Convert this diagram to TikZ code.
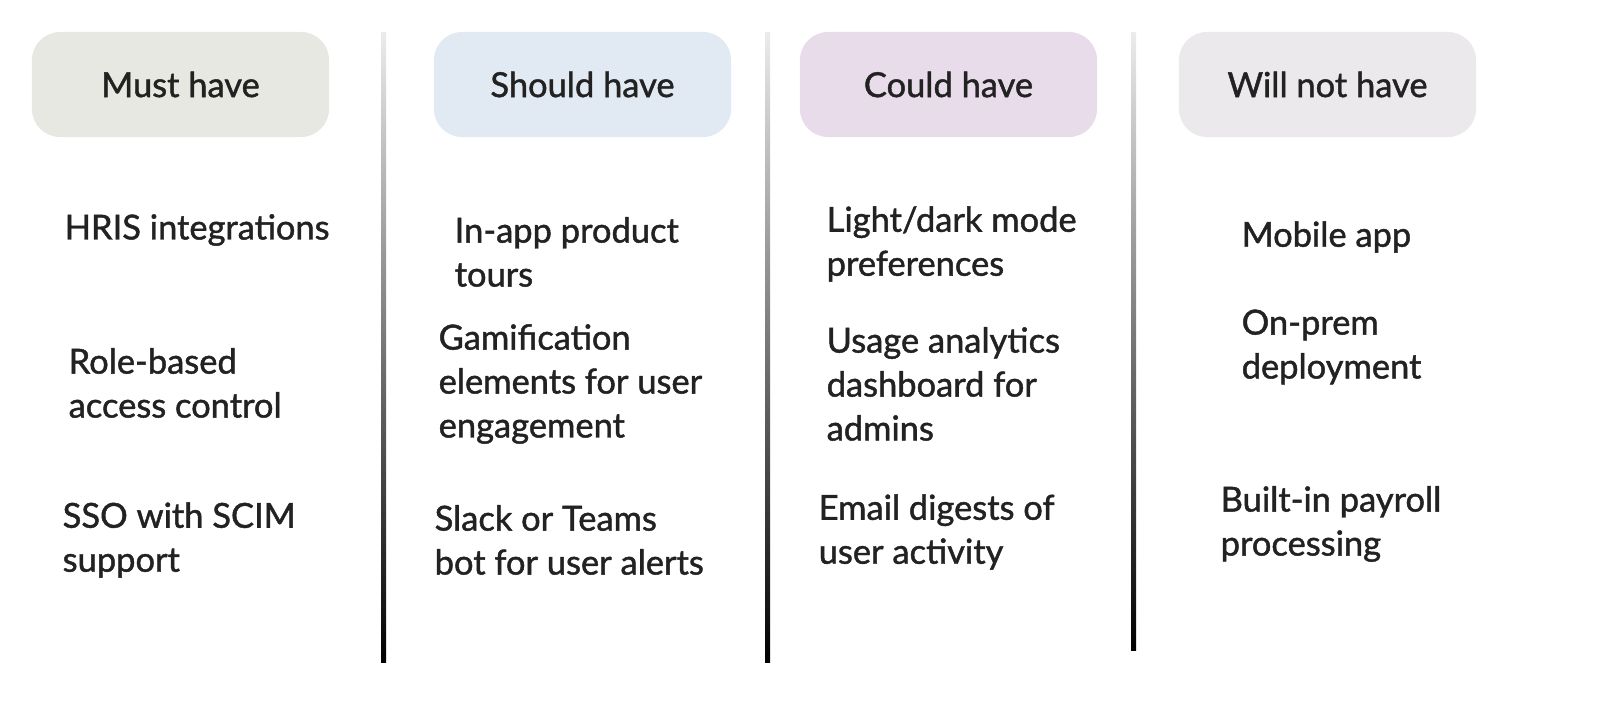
\documentclass[tikz,border=0pt]{standalone}
\usepackage{fontspec}
\setmainfont{Lato}[FakeBold=1.3,UprightFeatures={FakeBold=1.3}]
\usetikzlibrary{positioning}
\definecolor{mustbg}{HTML}{E8E8E3}
\definecolor{shouldbg}{HTML}{E1E9F2}
\definecolor{couldbg}{HTML}{E9DCEA}
\definecolor{wontbg}{HTML}{ECE9EC}
\definecolor{ink}{HTML}{222222}
\tikzset{
    head/.style={rounded corners=8pt, minimum width=2.97cm, minimum height=1.05cm, text=ink, font=\fontsize{9.8}{11}\selectfont},
    item/.style={anchor=west, align=left, inner sep=0pt, text=ink, font=\fontsize{9.8}{12.5}\selectfont}
}
\begin{document}
\begin{tikzpicture}[x=0.01cm, y=-0.01cm]
    \useasboundingbox (0,0) rectangle (1600,727);
    % Headers
    \node[head, fill=mustbg] (must) at (180.5,84.5) {Must have};
    \node[head, fill=shouldbg] (should) at (582.5,84.5) {Should have};
    \node[head, fill=couldbg] (could) at (948.5,84.5) {Could have};
    \node[head, fill=wontbg] (wont) at (1327.5,84.5) {Will not have};

    % Separators
    \shade[top color=gray!15, bottom color=black] (381,32) rectangle (386,662);
    \shade[top color=gray!15, bottom color=black] (765,32) rectangle (770,662);
    \shade[top color=gray!15, bottom color=black] (1131,32) rectangle (1136,650);

    % Must have
    \node[item] (m1) at (64,230) {HRIS integrations};
    \node[item] (m2) at (68,383) {Role-based\\access control};
    \node[item] (m3) at (62,540) {SSO with SCIM\\support};
    % Should have
    \node[item] (s1) at (454,252) {In-app product\\tours};
    \node[item] (s2) at (438,384) {Gamification\\elements for user\\engagement};
    \node[item] (s3) at (434,540) {Slack or Teams\\bot for user alerts};
    % Could have
    \node[item] (c1) at (826,244) {Light/dark mode\\preferences};
    \node[item] (c2) at (826,384) {Usage analytics\\dashboard for\\admins};
    \node[item] (c3) at (818,532) {Email digests of\\user activity};
    % Will not have
    \node[item] (w1) at (1241,237) {Mobile app};
    \node[item] (w2) at (1241,347) {On-prem\\deployment};
    \node[item] (w3) at (1220,524) {Built-in payroll\\processing};
\end{tikzpicture}
\end{document}
